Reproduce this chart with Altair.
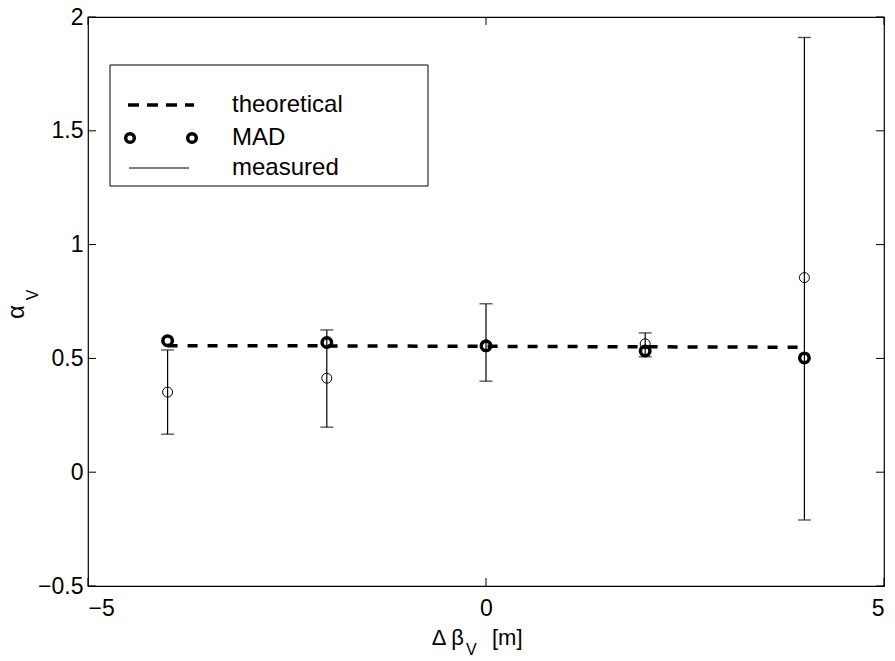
import altair as alt
import pandas as pd

# ---- data ----
x_vals = [-4, -2, 0, 2, 4]
theoretical = [0.556, 0.555, 0.553, 0.551, 0.549]
mad = [0.578, 0.570, 0.555, 0.533, 0.502]
measured = [0.352, 0.413, 0.560, 0.564, 0.855]
err_low = [0.167, 0.198, 0.400, 0.507, -0.210]
err_high = [0.537, 0.625, 0.740, 0.612, 1.910]

x_ticks = [-5, 0, 5]
y_ticks = [-0.5, 0, 0.5, 1, 1.5, 2]
legend_labels = ["theoretical", "MAD", "measured"]

df = pd.DataFrame({
    "x": x_vals,
    "theoretical": theoretical,
    "mad": mad,
    "measured": measured,
    "lo": err_low,
    "hi": err_high,
})
xt_df = pd.DataFrame({"t": x_ticks})
yt_df = pd.DataFrame({"t": y_ticks})

W, H = 796, 569
FONT = "Liberation Sans"
FS_TICK = 23
FS_LEG = 24
FS_TITLE = 22
TICK = 8

xscale = alt.Scale(domain=[-5, 5], nice=False, zero=False)
yscale = alt.Scale(domain=[-0.5, 2], nice=False, zero=False)

x_label_axis = alt.Axis(orient="bottom", values=x_ticks, grid=False, domain=False,
                        ticks=False, tickSize=0, labelPadding=11, labelFontSize=FS_TICK,
                        labelFont=FONT, labelColor="black", format="~g", title=None)
y_label_axis = alt.Axis(orient="left", values=y_ticks, grid=False, domain=False,
                        ticks=False, tickSize=0, labelPadding=5, labelFontSize=FS_TICK,
                        labelFont=FONT, labelColor="black", format="~g", title=None)

base = alt.Chart(df)
X = lambda f: alt.X(f, scale=xscale, axis=None)
Y = lambda f: alt.Y(f, scale=yscale, axis=None)

theo = base.mark_line(strokeDash=[10, 10], strokeWidth=3.5, color="black").encode(
    x=alt.X("x:Q", scale=xscale, axis=x_label_axis),
    y=alt.Y("theoretical:Q", scale=yscale, axis=y_label_axis),
)

mad_pts = base.mark_point(shape="circle", size=90, strokeWidth=3.5, color="black",
                          filled=False, opacity=1).encode(x=X("x:Q"), y=Y("mad:Q"))

meas_pts = base.mark_point(shape="circle", size=100, strokeWidth=1, color="black",
                           filled=False, opacity=1).encode(x=X("x:Q"), y=Y("measured:Q"))

err = base.mark_rule(strokeWidth=1.2, color="black").encode(
    x=X("x:Q"), y=Y("lo:Q"), y2="hi:Q")
cap_lo = base.mark_tick(orient="horizontal", size=13, thickness=1.3, color="black").encode(
    x=X("x:Q"), y=Y("lo:Q"))
cap_hi = base.mark_tick(orient="horizontal", size=13, thickness=1.3, color="black").encode(
    x=X("x:Q"), y=Y("hi:Q"))

# inward ticks on all four sides, placed through the scales
xt = alt.Chart(xt_df)
yt = alt.Chart(yt_df)
tick_layers = [
    xt.mark_rule(color="black", strokeWidth=1).encode(x=X("t:Q"), y=alt.value(H), y2=alt.value(H - TICK)),
    xt.mark_rule(color="black", strokeWidth=1).encode(x=X("t:Q"), y=alt.value(0), y2=alt.value(TICK)),
    yt.mark_rule(color="black", strokeWidth=1).encode(y=Y("t:Q"), x=alt.value(0), x2=alt.value(TICK)),
    yt.mark_rule(color="black", strokeWidth=1).encode(y=Y("t:Q"), x=alt.value(W), x2=alt.value(W - TICK)),
]

one = alt.Chart(alt.Data(values=[{"k": 0}]))

# ---- legend ----
leg_box = one.mark_rect(fill="white", stroke="black", strokeWidth=1).encode(
    x=alt.value(22), x2=alt.value(340), y=alt.value(48), y2=alt.value(169))
leg_theo = one.mark_rule(strokeDash=[11, 8], strokeWidth=3.5, color="black").encode(
    x=alt.value(40), x2=alt.value(106), y=alt.value(88))
leg_mad = [
    one.mark_point(shape="circle", size=75, strokeWidth=3.5, color="black",
                   opacity=1).encode(x=alt.value(xx), y=alt.value(121))
    for xx in (42, 104)
]
leg_meas = one.mark_rule(strokeWidth=1, color="black").encode(
    x=alt.value(41), x2=alt.value(101), y=alt.value(151))
leg_texts = [
    one.mark_text(align="left", baseline="middle", font=FONT, fontSize=FS_LEG,
                  color="black").encode(x=alt.value(144), y=alt.value(yy), text=alt.value(t))
    for t, yy in zip(legend_labels, [88, 121, 151])
]

# ---- axis titles with subscripts ----
xt_main = one.mark_text(align="right", baseline="alphabetic", font=FONT, fontSize=FS_TITLE,
                        color="black").encode(x=alt.value(376), y=alt.value(628),
                                              text=alt.value("Δ β"))
xt_sub = one.mark_text(align="left", baseline="alphabetic", font=FONT, fontSize=16,
                       color="black").encode(x=alt.value(378), y=alt.value(638),
                                             text=alt.value("V"))
xt_unit = one.mark_text(align="left", baseline="alphabetic", font=FONT, fontSize=FS_TITLE,
                        color="black").encode(x=alt.value(404), y=alt.value(628),
                                              text=alt.value("[m]"))
yt_main = one.mark_text(align="center", baseline="alphabetic", font=FONT, fontSize=FS_TITLE + 2,
                        angle=270, color="black").encode(x=alt.value(-64), y=alt.value(295),
                                                          text=alt.value("α"))
yt_sub = one.mark_text(align="center", baseline="alphabetic", font=FONT, fontSize=16,
                       angle=270, color="black").encode(x=alt.value(-50), y=alt.value(278),
                                                         text=alt.value("V"))

chart = alt.layer(
    theo, mad_pts, meas_pts, err, cap_lo, cap_hi, *tick_layers,
    leg_box, leg_theo, *leg_mad, leg_meas, *leg_texts,
    xt_main, xt_sub, xt_unit, yt_main, yt_sub,
).resolve_scale(x="shared", y="shared").resolve_axis(
    x="independent", y="independent"
).properties(
    width=W, height=H,
    autosize=alt.AutoSizeParams(type="none"),
    padding={"left": 88, "top": 17, "right": 11, "bottom": 75},
).configure(
    background="white",
    view=alt.ViewConfig(stroke="black", strokeWidth=1.2),
)

chart.save("out.html", embed_options={"renderer": "svg", "actions": False})
